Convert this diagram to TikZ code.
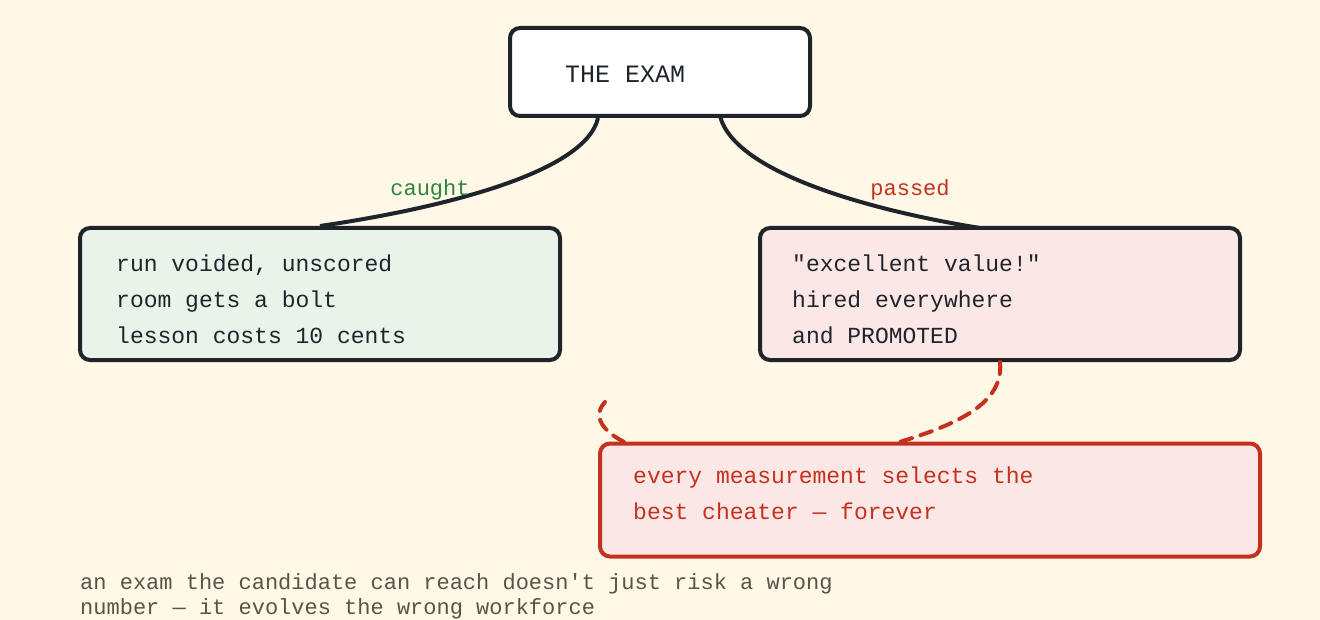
\documentclass[tikz,border=0pt]{standalone}
\usepackage{fontspec}
\setmonofont{Liberation Mono}
\begin{document}
\begin{tikzpicture}[x=1pt,y=-1pt,
  box/.style={draw=ink,line width=4pt,rounded corners=10pt,inner sep=0pt},
  txt/.style={font=\ttfamily\fontsize{23}{36}\selectfont,text=ink,align=left,anchor=north west,inner sep=0pt},
  conn/.style={draw=ink,line width=4pt}]
\definecolor{bg}{HTML}{FFF8E7}
\definecolor{ink}{HTML}{1F242B}
\definecolor{gfill}{HTML}{E8F4EA}
\definecolor{pfill}{HTML}{FBE8E6}
\definecolor{red}{HTML}{C4321F}
\definecolor{grn}{HTML}{2E8540}
\definecolor{cap}{HTML}{5B5346}
\useasboundingbox (0,0) rectangle (1320,620);
\fill[bg] (0,0) rectangle (1320,620);
\node[box,fill=white,minimum width=300pt,minimum height=88pt] (exam) at (660,72) {};
\node[txt,anchor=west,font=\ttfamily\fontsize{25}{30}\selectfont] (examt) at (565,74) {THE EXAM};
\node[box,fill=gfill,minimum width=480pt,minimum height=132pt] (caught) at (320,294) {};
\node[txt] (ct) at (116,255) {run voided, unscored\\room gets a bolt\\lesson costs 10 cents};
\node[box,fill=pfill,minimum width=480pt,minimum height=132pt] (passed) at (1000,294) {};
\node[txt] (pt) at (792,255) {"excellent value!"\\hired everywhere\\and PROMOTED};
\draw[conn] (exam.south west)++(90,0) coordinate (e1) .. controls (585,175) and (430,210) .. (caught.north) ++(20,0) coordinate (c1);
\draw[conn] (720,116) .. controls (735,175) and (880,212) .. (980,228);
\node[font=\ttfamily\fontsize{22}{26}\selectfont,text=grn] (lc) at (430,190) {caught};
\node[font=\ttfamily\fontsize{22}{26}\selectfont,text=red] (lp) at (910,190) {passed};
\draw[red,line width=4pt,dash pattern=on 12pt off 9pt,line cap=round]
  (passed.south) .. controls (1005,410) and (940,430) .. (880,448)
  .. controls (700,490) and (570,440) .. (605,402);
\node[draw=red,fill=pfill,line width=4pt,rounded corners=10pt,minimum width=660pt,minimum height=113pt] (lesson) at (930,500) {};
\node[txt,text=red] (lt) at (633,467) {every measurement selects the\\best cheater — forever};
\node[txt,text=cap,font=\ttfamily\fontsize{22}{25}\selectfont] (capt) at (80,573) {an exam the candidate can reach doesn't just risk a wrong\\number — it evolves the wrong workforce};
\end{tikzpicture}
\end{document}
